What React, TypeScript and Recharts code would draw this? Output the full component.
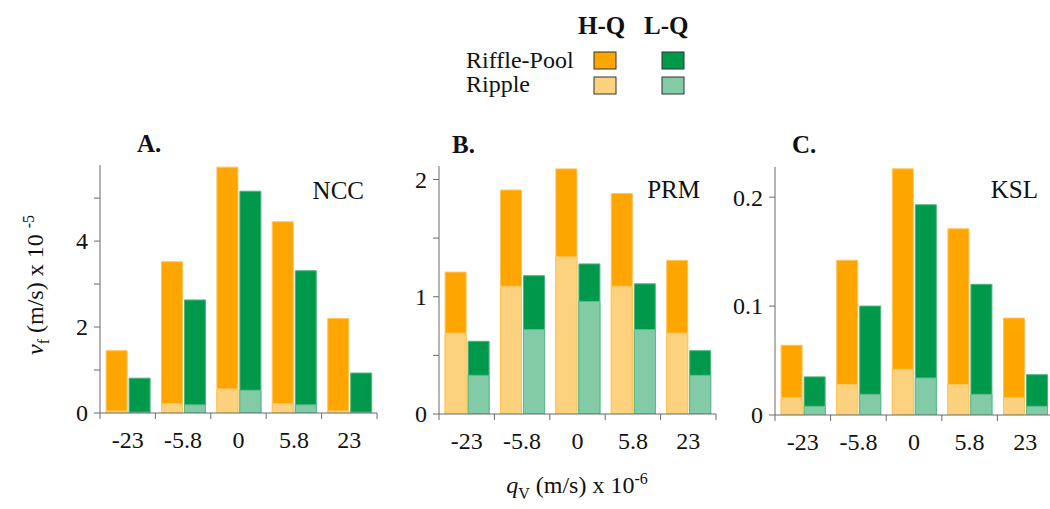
import React from 'react';
import { BarChart, Bar, XAxis, YAxis } from 'recharts';

const categories = ['-23', '-5.8', '0', '5.8', '23'];

// NCC
const nccHQRiffle = [1.45, 3.52, 5.72, 4.45, 2.2];
const nccHQRipple = [0.05, 0.22, 0.56, 0.22, 0.05];
const nccLQRiffle = [0.81, 2.63, 5.16, 3.31, 0.93];
const nccLQRipple = [0.02, 0.19, 0.53, 0.19, 0.02];
const nccTicks = [0, 1, 2, 3, 4, 5];
const nccLabels = [0, 2, 4];

// PRM
const prmHQRiffle = [1.21, 1.91, 2.09, 1.88, 1.31];
const prmHQRipple = [0.69, 1.09, 1.34, 1.09, 0.69];
const prmLQRiffle = [0.62, 1.18, 1.28, 1.11, 0.54];
const prmLQRipple = [0.33, 0.72, 0.96, 0.72, 0.33];
const prmTicks = [0, 0.5, 1, 1.5, 2];
const prmLabels = [0, 1, 2];

// KSL
const kslHQRiffle = [0.064, 0.142, 0.226, 0.171, 0.089];
const kslHQRipple = [0.016, 0.028, 0.042, 0.028, 0.016];
const kslLQRiffle = [0.035, 0.1, 0.193, 0.12, 0.037];
const kslLQRipple = [0.008, 0.019, 0.034, 0.019, 0.008];
const kslTicks = [0, 0.1, 0.2];
const kslLabels = [0, 0.1, 0.2];

const FONT = 'Liberation Serif, DejaVu Serif, Times New Roman, serif';
const AXIS = '#6b6b6b';
const ORANGE = '#FFA500';
const ORANGE_LIGHT = '#FDD27F';
const GREEN = '#00994C';
const GREEN_LIGHT = '#82CBA6';

const PLOT_H = 248;
const Y_W = 60;
const M = { top: 10, right: 10, bottom: 0, left: 0 };
const X_H = 40;

const buildRows = (hqR: number[], hqP: number[], lqR: number[], lqP: number[]) =>
  categories.map((cat, i) => ({ cat, hqRiffle: hqR[i], hqRipple: hqP[i], lqRiffle: lqR[i], lqRipple: lqP[i] }));

const panels = [
  { id: 'A', rows: buildRows(nccHQRiffle, nccHQRipple, nccLQRiffle, nccLQRipple), ticks: nccTicks, labels: nccLabels, yMax: 5.77, plotLeft: 100, plotTop: 165, plotW: 277 },
  { id: 'B', rows: buildRows(prmHQRiffle, prmHQRipple, prmLQRiffle, prmLQRipple), ticks: prmTicks, labels: prmLabels, yMax: 2.115, plotLeft: 439, plotTop: 166, plotW: 277 },
  { id: 'C', rows: buildRows(kslHQRiffle, kslHQRipple, kslLQRiffle, kslLQRipple), ticks: kslTicks, labels: kslLabels, yMax: 0.2277, plotLeft: 775, plotTop: 167, plotW: 278 },
];

const serif = { fontFamily: FONT };

function XTick(props: any) {
  const { x, y, payload, index, band, count } = props;
  return (
    <g>
      <line x1={x - band / 2} x2={x - band / 2} y1={y} y2={y + 6} stroke={AXIS} />
      {index === count - 1 && <line x1={x + band / 2} x2={x + band / 2} y1={y} y2={y + 6} stroke={AXIS} />}
      <text x={x} y={y + 35} textAnchor="middle" fontSize={24} style={serif} fill="#111">
        {payload.value}
      </text>
    </g>
  );
}

function YTick(props: any) {
  const { x, y, payload, labels } = props;
  return (
    <g>
      <line x1={x - 6} x2={x} y1={y} y2={y} stroke={AXIS} />
      {labels.includes(payload.value) && (
        <text x={x - 12} y={y} dy="0.35em" textAnchor="end" fontSize={24} style={serif} fill="#111">
          {String(payload.value)}
        </text>
      )}
    </g>
  );
}

function Panel({ p }: { p: (typeof panels)[number] }) {
  const width = Y_W + p.plotW + M.right;
  const height = M.top + PLOT_H + X_H;
  return (
    <div style={{ position: 'absolute', left: p.plotLeft - Y_W, top: p.plotTop - M.top }}>
      <BarChart width={width} height={height} data={p.rows} margin={M} barCategoryGap="11%" barGap={2}>
        <XAxis xAxisId="main" dataKey="cat" height={X_H} axisLine={{ stroke: AXIS }} tickLine={false} tickSize={0} tickMargin={0} interval={0}
          tick={(t: any) => <XTick {...t} band={p.plotW / categories.length} count={categories.length} />} />
        <XAxis xAxisId="ov" dataKey="cat" hide />
        <XAxis xAxisId="top" dataKey="cat" orientation="top" height={0} tick={false} tickLine={false} axisLine={{ stroke: AXIS }} />
        <YAxis width={Y_W} domain={[0, p.yMax]} ticks={p.ticks} allowDataOverflow interval={0} axisLine={{ stroke: AXIS }} tickLine={false} tickSize={0} tickMargin={0}
          tick={(t: any) => <YTick {...t} labels={p.labels} />} />
        <YAxis yAxisId="right" orientation="right" width={0} tick={false} tickLine={false} axisLine={{ stroke: AXIS }} />
        <Bar xAxisId="main" dataKey="hqRiffle" fill={ORANGE} stroke="#FFC45A" strokeWidth={1} isAnimationActive={false} />
        <Bar xAxisId="main" dataKey="lqRiffle" fill={GREEN} stroke="#4DB47F" strokeWidth={1} isAnimationActive={false} />
        <Bar xAxisId="ov" dataKey="hqRipple" fill={ORANGE_LIGHT} stroke="#FFC45A" strokeWidth={1} isAnimationActive={false} />
        <Bar xAxisId="ov" dataKey="lqRipple" fill={GREEN_LIGHT} stroke="#5DBB8A" strokeWidth={1} isAnimationActive={false} />
      </BarChart>
    </div>
  );
}

export default function App() {
  const txt = { style: serif, fill: '#111' };
  return (
    <div style={{ position: 'absolute', left: 0, top: 0, width: 1050, height: 509, overflow: 'hidden', background: '#fff' }}>
      {panels.map((p) => (
        <Panel key={p.id} p={p} />
      ))}
      <svg width={1050} height={509} style={{ position: 'absolute', left: 0, top: 0, pointerEvents: 'none' }}>
        {/* legend */}
        <text x={578} y={34} fontSize={25} fontWeight="bold" {...txt}>H-Q</text>
        <text x={644} y={34} fontSize={25} fontWeight="bold" {...txt}>L-Q</text>
        <text x={466} y={68} fontSize={24} {...txt}>Riffle-Pool</text>
        <text x={466} y={92} fontSize={24} {...txt}>Ripple</text>
        <rect x={594} y={52} width={22} height={17} fill={ORANGE} stroke="#333" />
        <rect x={662} y={52} width={22} height={17} fill={GREEN} stroke="#333" />
        <rect x={594} y={77} width={22} height={17} fill={ORANGE_LIGHT} stroke="#333" />
        <rect x={662} y={77} width={22} height={17} fill={GREEN_LIGHT} stroke="#333" />

        {/* panel letters and site names */}
        <text x={137} y={152} fontSize={25} fontWeight="bold" {...txt}>A.</text>
        <text x={452} y={153} fontSize={25} fontWeight="bold" {...txt}>B.</text>
        <text x={792} y={153} fontSize={25} fontWeight="bold" {...txt}>C.</text>
        <text x={364} y={199} fontSize={25} textAnchor="end" {...txt}>NCC</text>
        <text x={700} y={198} fontSize={25} textAnchor="end" {...txt}>PRM</text>
        <text x={1038} y={198} fontSize={25} textAnchor="end" {...txt}>KSL</text>

        {/* axis titles */}
        <text x={577} y={493} fontSize={24} textAnchor="middle" {...txt}>
          <tspan fontStyle="italic">q</tspan>
          <tspan fontSize={16} dy={6}>V</tspan>
          <tspan dy={-6}> (m/s) x 10</tspan>
          <tspan fontSize={16} dy={-9}>-6</tspan>
        </text>
        <text x={0} y={0} fontSize={24} textAnchor="middle" transform="translate(43,285) rotate(-90)" {...txt}>
          <tspan fontStyle="italic">v</tspan>
          <tspan fontSize={16} dy={6}>f</tspan>
          <tspan dy={-6}> (m/s) x 10 </tspan>
          <tspan fontSize={16} dy={-9}>-5</tspan>
        </text>
      </svg>
    </div>
  );
}
